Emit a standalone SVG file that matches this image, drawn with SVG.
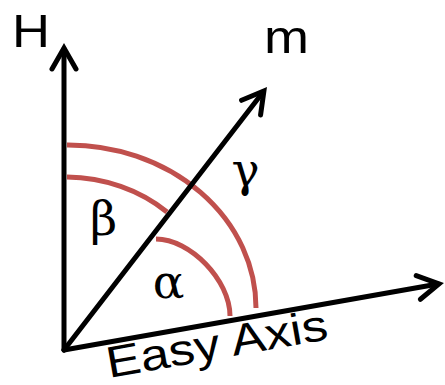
<svg xmlns="http://www.w3.org/2000/svg" width="445" height="385" viewBox="0 0 445 385">
<style>
.ax{stroke:#000;stroke-width:5;fill:none;stroke-linecap:round}
.arc{stroke:#c0504d;stroke-width:5;fill:none}
.lbl{font-family:"Liberation Sans",Arial,sans-serif;font-size:47px;fill:#000}
.gr{font-family:"DejaVu Serif","Liberation Serif",serif;font-size:47px;fill:#000;text-anchor:middle}
</style>
<defs>
<marker id="head" markerUnits="userSpaceOnUse" orient="auto" refX="-1" refY="0" markerWidth="30" markerHeight="30" overflow="visible">
<path d="M-21,-12 L0,0 L-21,12" fill="none" stroke="#000" stroke-width="5" stroke-linecap="round" stroke-linejoin="miter"/>
</marker>
</defs>
<g id="angles">
<path id="arc-gamma" class="arc" d="M67,145 A188,163 0 0 1 256,308"/>
<path id="arc-beta" class="arc" d="M67,177 A150,131 0 0 1 167,212"/>
<path id="arc-alpha" class="arc" d="M156,239 C190,239 230,280 230,316"/>
</g>
<g id="connectors">
<line id="axis-H" class="ax" x1="64" y1="350" x2="64" y2="49" marker-end="url(#head)"/>
<line id="axis-m" class="ax" x1="64" y1="350" x2="263.3" y2="91.8" marker-end="url(#head)"/>
<line id="axis-easy" class="ax" x1="64" y1="350" x2="438" y2="284" marker-end="url(#head)"/>
</g>
<g id="node-H"><text class="lbl" x="12" y="47" textLength="38" lengthAdjust="spacingAndGlyphs">H</text></g>
<g id="node-m"><text class="lbl" x="264" y="53" textLength="45" lengthAdjust="spacingAndGlyphs">m</text></g>
<g id="node-easy"><text class="lbl" style="font-size:44px" transform="translate(109,378) rotate(-10)" x="0" y="0" textLength="224" lengthAdjust="spacingAndGlyphs">Easy Axis</text></g>
<g id="label-alpha"><text class="gr" x="168.5" y="298">α</text></g>
<g id="label-beta"><text class="gr" x="103.5" y="235">β</text></g>
<g id="label-gamma"><text class="gr" x="245.5" y="186">γ</text></g>
</svg>
